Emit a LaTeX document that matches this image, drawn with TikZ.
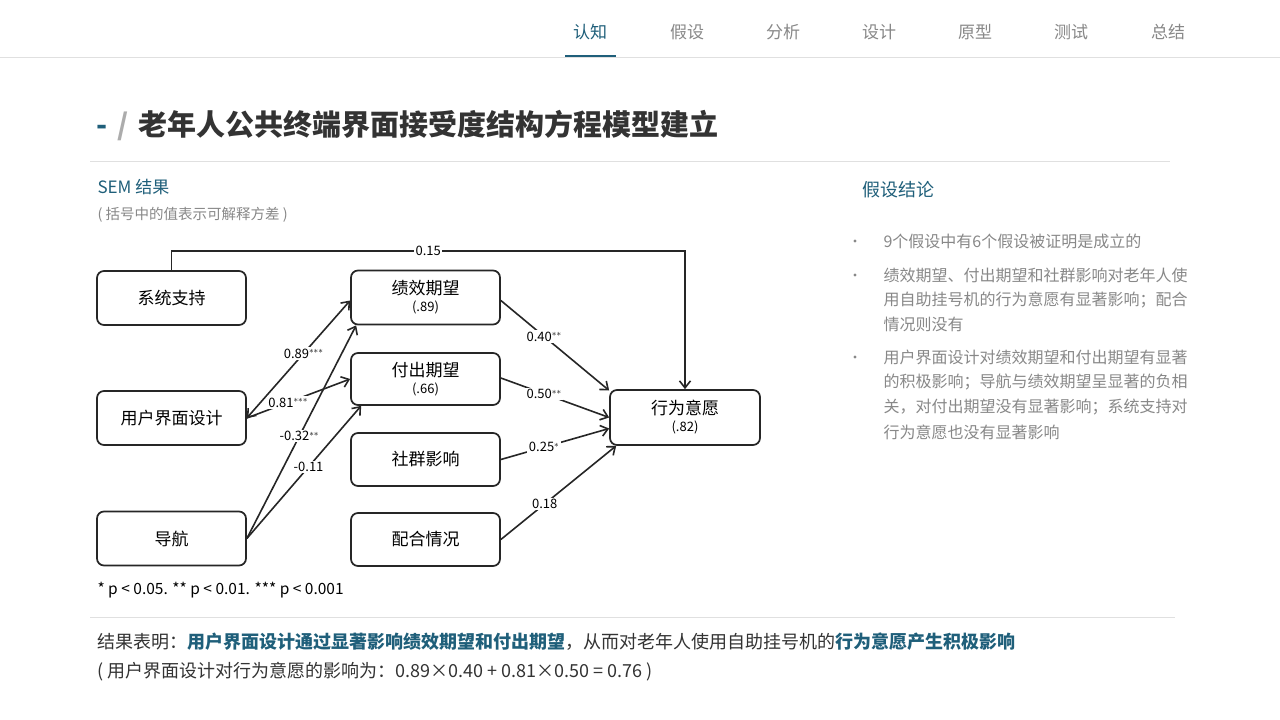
\documentclass[tikz,border=0pt]{standalone}
\usepackage{fontspec}
\setmainfont{Noto Sans CJK SC}
\usetikzlibrary{arrows.meta}
\definecolor{teal}{HTML}{1F5F7A}
\definecolor{txt}{HTML}{333333}
\definecolor{gr}{HTML}{888888}
\begin{document}
\begin{tikzpicture}[x=1pt,y=-1pt,
 box/.style={draw=black!85,line width=1.7pt,rounded corners=7pt,fill=white,inner sep=0pt},
 tip/.style={},
 arr/.style={line width=1.6pt,draw=black!85,-{Straight Barb[length=7pt,width=11pt]}},
 lab/.style={fill=white,inner sep=1.5pt,font=\fontsize{13}{13}\selectfont},
 nav/.style={font=\fontsize{17}{17}\selectfont,text=gr},
 bl/.style={font=\fontsize{16}{16}\selectfont,text=gr,anchor=west}]
\useasboundingbox (0,0) rectangle (1280,720);
\fill[white] (0,0) rectangle (1280,720);
% nav
\draw[black!12,line width=1pt] (0,57) -- (1280,57);
\node[nav,text=teal] (n1) at (590,32) {认知};
\draw[teal,line width=2.5pt] (565,56) -- (616,56);
\node[nav] (n2) at (687,32) {假设};
\node[nav] (n3) at (783,32) {分析};
\node[nav] (n4) at (879,32) {设计};
\node[nav] (n5) at (975,32) {原型};
\node[nav] (n6) at (1071,32) {测试};
\node[nav] (n7) at (1168,32) {总结};
% title
\node[anchor=west,font=\fontsize{29}{29}\selectfont\bfseries] (t) at (93,126) {\textcolor{teal}{-}\hspace{10pt}\textcolor{gr!70}{/}\hspace{10pt}\textcolor{txt}{老年人公共终端界面接受度结构方程模型建立}};
\draw[black!12,line width=1pt] (90,161) -- (1170,161);
\node[anchor=west,text=teal,font=\fontsize{17}{17}\selectfont] (sem) at (94,187) {SEM 结果};
\node[anchor=west,text=gr,font=\fontsize{14.5}{14.5}\selectfont] (sub) at (94,215) {( 括号中的值表示可解释方差 )};
% boxes
\node[box,minimum width=149pt,minimum height=54pt,font=\fontsize{17}{17}\selectfont] (xt) at (171.5,298) {系统支持};
\node[box,minimum width=149pt,minimum height=54pt,font=\fontsize{17}{17}\selectfont] (ui) at (171.5,418) {用户界面设计};
\node[box,minimum width=149pt,minimum height=54pt,font=\fontsize{17}{17}\selectfont] (dh) at (171.5,538.5) {导航};
\node[box,minimum width=149pt,minimum height=54pt,align=center,font=\fontsize{17}{19}\selectfont] (jx) at (425.5,297.5) {绩效期望\\[-2pt]{\fontsize{13}{13}\selectfont(.89)}};
\node[box,minimum width=149pt,minimum height=52pt,align=center,font=\fontsize{17}{19}\selectfont] (fc) at (425.5,379) {付出期望\\[-2pt]{\fontsize{13}{13}\selectfont(.66)}};
\node[box,minimum width=149pt,minimum height=53pt,font=\fontsize{17}{17}\selectfont] (sq) at (425.5,459.5) {社群影响};
\node[box,minimum width=149pt,minimum height=53pt,font=\fontsize{17}{17}\selectfont] (ph) at (425.5,539.5) {配合情况};
\node[box,minimum width=150pt,minimum height=55pt,align=center,font=\fontsize{17}{19}\selectfont] (xw) at (685,417.5) {行为意愿\\[-2pt]{\fontsize{13}{13}\selectfont(.82)}};
% connectors
\coordinate (c1) at (xt.north |- 0,251);
\coordinate (c2) at (xw.north |- 0,251);
\draw[arr] (xt.north) -- (c1) -- node[lab,pos=0.5] {0.15} (c2) -- (xw.north);
\draw[arr,{Straight Barb[length=7pt,width=11pt]}-{Straight Barb[length=7pt,width=11pt]}] (ui.east) -- node[lab,pos=0.55] {0.89$^{***}$} ([yshift=-3pt]jx.west);
\draw[arr] (ui.east) -- node[lab,pos=0.4] {0.81$^{***}$} (fc.west);
\draw[arr] (dh.east) -- node[lab,pos=0.48] {-0.32$^{**}$} ([xshift=6pt]jx.south west);
\draw[arr] (dh.east) -- node[lab,pos=0.54] {-0.11} ([xshift=11pt]fc.south west);
\draw[arr] ([yshift=-3pt]jx.east) -- node[lab,pos=0.4] {0.40$^{**}$} ([yshift=27pt]xw.west);
\draw[arr] ([yshift=1pt]fc.east) -- node[lab,pos=0.4] {0.50$^{**}$} (xw.west);
\draw[arr] (sq.east) -- node[lab,pos=0.4] {0.25$^{*}$} ([yshift=-11pt]xw.west);
\draw[arr] (ph.east) -- node[lab,pos=0.38] {0.18} ([xshift=7pt]xw.south west);
\node[anchor=west,font=\fontsize{15.5}{15.5}\selectfont] (fn) at (94,590) {* p < 0.05. ** p < 0.01. *** p < 0.001};
\draw[black!12,line width=1pt] (90,617) -- (1175,617);
\node[anchor=west,font=\fontsize{18}{18}\selectfont,text=txt] (r1) at (94,642) {结果表明：\textcolor{teal}{\bfseries 用户界面设计通过显著影响绩效期望和付出期望}，从而对老年人使用自助挂号机的\textcolor{teal}{\bfseries 行为意愿产生积极影响}};
\node[anchor=west,font=\fontsize{18}{18}\selectfont,text=txt] (r2) at (94,672) {( 用户界面设计对行为意愿的影响为：0.89×0.40 + 0.81×0.50 = 0.76 )};
% right
\node[anchor=west,text=teal,font=\fontsize{18}{18}\selectfont] (jl) at (859,190) {假设结论};
\node[bl] (b1) at (880,241) {9个假设中有6个假设被证明是成立的};
\node[bl] (b2) at (880,275) {绩效期望、付出期望和社群影响对老年人使};
\node[bl] (b3) at (880,300) {用自助挂号机的行为意愿有显著影响；配合};
\node[bl] (b4) at (880,324) {情况则没有};
\node[bl] (b5) at (880,357) {用户界面设计对绩效期望和付出期望有显著};
\node[bl] (b6) at (880,382) {的积极影响；导航与绩效期望呈显著的负相};
\node[bl] (b7) at (880,407) {关，对付出期望没有显著影响；系统支持对};
\node[bl] (b8) at (880,432) {行为意愿也没有显著影响};
\foreach \y/\n in {241/d1,275/d2,357/d3} \fill[gr] (855,\y) circle (1.6pt);
\end{tikzpicture}
\end{document}
